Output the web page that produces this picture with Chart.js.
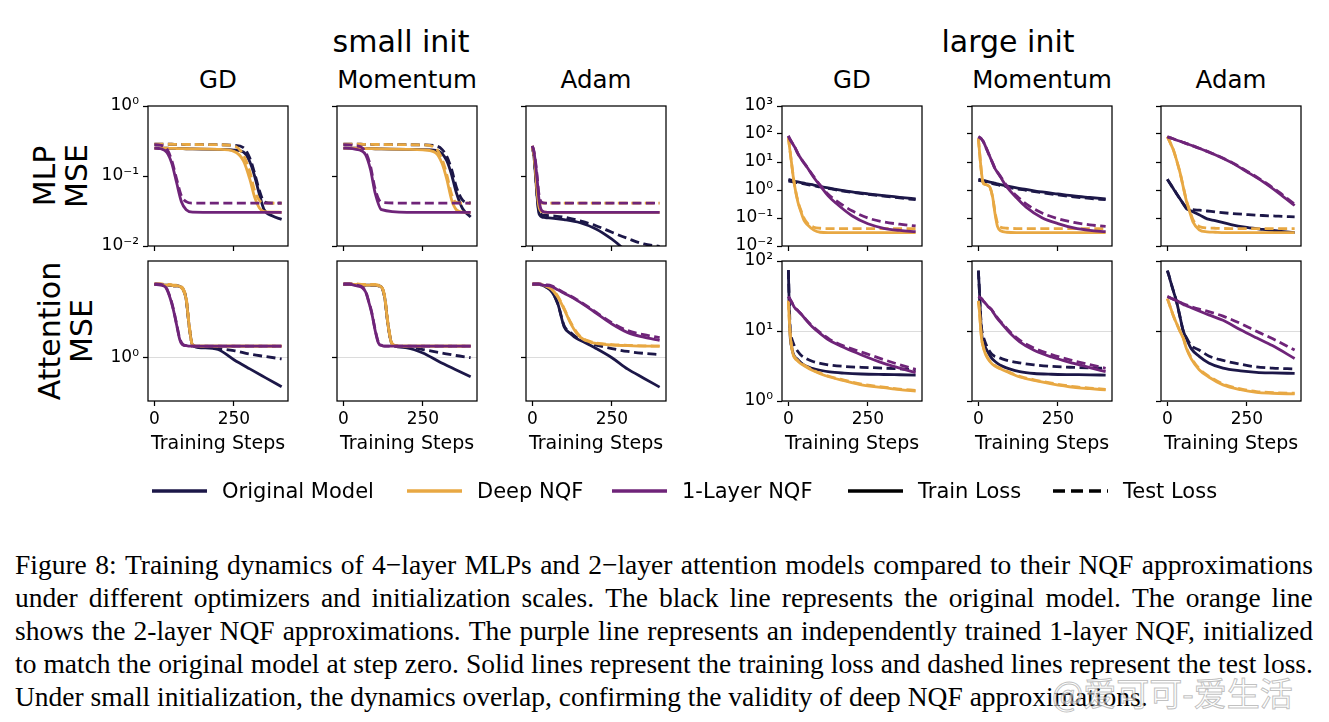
<!DOCTYPE html>
<html>
<head>
<meta charset="utf-8">
<title>Figure 8 - training dynamics</title>
<script src="https://cdn.jsdelivr.net/npm/chart.js@4.4.1/dist/chart.umd.min.js"></script>
<style>
  html, body { margin: 0; padding: 0; background: #fff; }
  #fig { position: relative; width: 1329px; height: 722px; overflow: hidden;
         font-family: 'DejaVu Sans', sans-serif; color: #000; }
  #fig canvas { position: absolute; }
  .lbl { position: absolute; white-space: nowrap; line-height: 1; transform: translate(-50%, -50%); }
  .group-title { font-size: 30px; }
  .col-title { font-size: 24.5px; }
  .row-title { position: absolute; font-size: 30px; line-height: 32px; text-align: center; white-space: nowrap;
               transform: translate(-50%, -50%) rotate(-90deg); }
  .legend-item { position: absolute; top: 491px; transform: translateY(-50%); display: flex;
                 align-items: center; font-size: 21px; white-space: nowrap; }
  .legend-item svg { margin-right: 15px; }
  #caption { position: absolute; left: 15px; top: 548px; width: 1298px;
             font-family: 'Liberation Serif', 'Times New Roman', serif; font-size: 27.5px; }
  #caption .line { display: flex; justify-content: space-between; height: 33px; line-height: 33px; white-space: nowrap; }
  #caption .last { height: 33px; line-height: 33px; white-space: nowrap; }
  .watermark { position: absolute; left: 1052px; top: 668px; font-size: 33px; white-space: nowrap;
               font-family: 'Noto Sans CJK SC', sans-serif; color: rgba(255,255,255,0.55);
               -webkit-text-stroke: 1px rgba(140,140,140,0.55); }
</style>
</head>
<body>
<div id="fig"></div>
<script>
/* ── AXES ── */
const xTicks = [0, 250];
const xRange = [-20, 420];
const mlpSmallTicks = [0.01, 0.1, 1];
const mlpSmallRange = [0.01, 1];
const attnSmallTicks = [1];
const attnSmallRange = [0.702, 2.22];
const mlpLargeTicks = [0.01, 0.1, 1, 10, 100, 1000];
const mlpLargeRange = [0.01, 1000];
const attnLargeTicks = [1, 10, 100];
const attnLargeRange = [1, 100];

/* ── MLP, small init ── */
const mlpSmallGdSteps     = [0, 20, 40, 55, 70, 85, 100, 120, 200, 250, 280, 300, 315, 330, 345, 370, 400];
const mlpSmallGdOrigTrain = [0.25, 0.25, 0.249, 0.248, 0.247, 0.246, 0.245, 0.244, 0.24, 0.235, 0.22, 0.16, 0.10, 0.055, 0.033, 0.027, 0.024];
const mlpSmallGdOrigTest  = [0.285, 0.285, 0.284, 0.284, 0.283, 0.283, 0.282, 0.282, 0.28, 0.275, 0.255, 0.18, 0.11, 0.062, 0.043, 0.041, 0.041];
const mlpSmallGdDeepTrain = [0.25, 0.25, 0.249, 0.248, 0.247, 0.246, 0.245, 0.244, 0.24, 0.225, 0.165, 0.09, 0.05, 0.035, 0.031, 0.0305, 0.0303];
const mlpSmallGdDeepTest  = [0.285, 0.285, 0.284, 0.284, 0.283, 0.283, 0.282, 0.282, 0.28, 0.27, 0.2, 0.115, 0.062, 0.045, 0.041, 0.041, 0.041];
const mlpSmallGdOneTrain  = [0.25, 0.245, 0.215, 0.15, 0.08, 0.043, 0.033, 0.0305, 0.0303, 0.0303, 0.0303, 0.0303, 0.0303, 0.0303, 0.0303, 0.0303, 0.0303];
const mlpSmallGdOneTest   = [0.28, 0.275, 0.24, 0.165, 0.09, 0.052, 0.043, 0.041, 0.041, 0.041, 0.041, 0.041, 0.041, 0.041, 0.041, 0.041, 0.041];

const mlpSmallMomSteps     = [0, 20, 40, 55, 70, 85, 100, 120, 200, 250, 290, 310, 325, 340, 355, 375, 400];
const mlpSmallMomOrigTrain = [0.25, 0.25, 0.249, 0.248, 0.247, 0.246, 0.245, 0.244, 0.24, 0.238, 0.232, 0.21, 0.165, 0.105, 0.058, 0.034, 0.026];
const mlpSmallMomOrigTest  = [0.285, 0.285, 0.284, 0.284, 0.283, 0.283, 0.282, 0.282, 0.28, 0.278, 0.27, 0.24, 0.19, 0.125, 0.07, 0.045, 0.041];
const mlpSmallMomDeepTrain = [0.25, 0.25, 0.249, 0.248, 0.247, 0.246, 0.245, 0.244, 0.24, 0.236, 0.215, 0.152, 0.09, 0.046, 0.033, 0.0305, 0.0303];
const mlpSmallMomDeepTest  = [0.285, 0.285, 0.284, 0.284, 0.283, 0.283, 0.282, 0.282, 0.28, 0.278, 0.25, 0.175, 0.105, 0.055, 0.042, 0.041, 0.041];
const mlpSmallMomOneTrain  = [0.25, 0.248, 0.24, 0.232, 0.2, 0.125, 0.057, 0.033, 0.0303, 0.0303, 0.0303, 0.0303, 0.0303, 0.0303, 0.0303, 0.0303, 0.0303];
const mlpSmallMomOneTest   = [0.28, 0.278, 0.27, 0.26, 0.22, 0.14, 0.065, 0.042, 0.041, 0.041, 0.041, 0.041, 0.041, 0.041, 0.041, 0.041, 0.041];

const mlpSmallAdamSteps     = [0, 5, 10, 15, 20, 25, 30, 40, 60, 100, 150, 200, 250, 300, 350, 400];
const mlpSmallAdamOrigTrain = [0.26, 0.19, 0.1, 0.05, 0.03, 0.027, 0.026, 0.0255, 0.025, 0.0238, 0.0215, 0.0175, 0.0125, 0.0082, 0.0058, 0.0042];
const mlpSmallAdamOrigTest  = [0.26, 0.19, 0.1, 0.05, 0.032, 0.029, 0.028, 0.0275, 0.027, 0.0258, 0.0228, 0.0195, 0.0157, 0.0128, 0.0107, 0.0099];
const mlpSmallAdamDeepTrain = [0.26, 0.2, 0.12, 0.06, 0.038, 0.032, 0.031, 0.0305, 0.0303, 0.0303, 0.0303, 0.0303, 0.0303, 0.0303, 0.0303, 0.0303];
const mlpSmallAdamDeepTest  = [0.27, 0.21, 0.13, 0.07, 0.048, 0.042, 0.041, 0.041, 0.041, 0.041, 0.041, 0.041, 0.041, 0.041, 0.041, 0.041];
const mlpSmallAdamOneTrain  = [0.27, 0.22, 0.15, 0.09, 0.05, 0.036, 0.032, 0.0305, 0.0303, 0.0303, 0.0303, 0.0303, 0.0303, 0.0303, 0.0303, 0.0303];
const mlpSmallAdamOneTest   = [0.27, 0.225, 0.16, 0.1, 0.058, 0.045, 0.042, 0.041, 0.041, 0.041, 0.041, 0.041, 0.041, 0.041, 0.041, 0.041];

/* ── MLP, large init ── */
const mlpLargeGdSteps     = [0, 5, 10, 15, 20, 30, 40, 50, 60, 80, 100, 125, 150, 200, 250, 300, 350, 400];
const mlpLargeGdOrigTrain = [2.4, 2.3, 2.2, 2.1, 2.05, 1.95, 1.85, 1.75, 1.65, 1.5, 1.33, 1.19, 1.05, 0.86, 0.73, 0.63, 0.55, 0.48];
const mlpLargeGdOrigTest  = [2.1, 2.05, 2.0, 1.95, 1.9, 1.82, 1.74, 1.65, 1.57, 1.43, 1.28, 1.14, 1.01, 0.83, 0.7, 0.6, 0.52, 0.45];
const mlpLargeGdDeepTrain = [75, 26, 9.2, 3.2, 1.34, 0.37, 0.16, 0.079, 0.057, 0.037, 0.031, 0.03, 0.03, 0.03, 0.03, 0.03, 0.03, 0.03];
const mlpLargeGdDeepTest  = [75, 26, 9.2, 3.3, 1.4, 0.4, 0.18, 0.095, 0.065, 0.047, 0.043, 0.042, 0.042, 0.042, 0.042, 0.042, 0.042, 0.042];
const mlpLargeGdOneTrain  = [85, 65, 52, 42, 34, 20, 13, 9, 6.2, 2.8, 1.43, 0.62, 0.335, 0.12, 0.062, 0.043, 0.036, 0.0325];
const mlpLargeGdOneTest   = [85, 65, 52, 42, 34, 20, 13, 9, 6.3, 3.0, 1.5, 0.7, 0.42, 0.18, 0.1, 0.072, 0.06, 0.052];

const mlpLargeMomSteps     = [0, 5, 10, 15, 20, 30, 37, 45, 52, 60, 70, 90, 120, 150, 200, 250, 300, 350, 400];
const mlpLargeMomOrigTrain = [2.4, 2.35, 2.28, 2.22, 2.15, 2.0, 1.92, 1.82, 1.75, 1.65, 1.55, 1.38, 1.18, 1.05, 0.85, 0.72, 0.61, 0.54, 0.48];
const mlpLargeMomOrigTest  = [2.2, 2.15, 2.1, 2.05, 2.0, 1.87, 1.79, 1.7, 1.63, 1.54, 1.45, 1.29, 1.1, 0.98, 0.8, 0.67, 0.57, 0.5, 0.45];
const mlpLargeMomDeepTrain = [70, 15.5, 4, 1.8, 1.6, 1.45, 1.2, 0.55, 0.15, 0.05, 0.035, 0.031, 0.03, 0.03, 0.03, 0.03, 0.03, 0.03, 0.03];
const mlpLargeMomDeepTest  = [70, 15.5, 4, 1.8, 1.6, 1.45, 1.2, 0.55, 0.17, 0.065, 0.047, 0.043, 0.042, 0.042, 0.042, 0.042, 0.042, 0.042, 0.042];
const mlpLargeMomOneTrain  = [80, 74, 66, 55, 42, 22.6, 14.7, 9.1, 5.9, 4.25, 2.83, 1.26, 0.53, 0.245, 0.102, 0.063, 0.044, 0.036, 0.0325];
const mlpLargeMomOneTest   = [80, 74, 66, 55, 42, 22.6, 14.7, 9.1, 6.0, 4.4, 3.0, 1.4, 0.62, 0.32, 0.15, 0.095, 0.07, 0.057, 0.05];

const mlpLargeAdamSteps     = [0, 10, 20, 30, 40, 50, 60, 70, 80, 100, 125, 150, 200, 250, 300, 350, 400];
const mlpLargeAdamOrigTrain = [2.4, 1.6, 1.07, 0.71, 0.48, 0.32, 0.215, 0.19, 0.168, 0.13, 0.093, 0.081, 0.058, 0.046, 0.039, 0.034, 0.03];
const mlpLargeAdamOrigTest  = [2.4, 1.6, 1.07, 0.71, 0.48, 0.32, 0.24, 0.22, 0.2, 0.19, 0.178, 0.165, 0.145, 0.133, 0.123, 0.116, 0.11];
const mlpLargeAdamDeepTrain = [80, 46, 25, 10.5, 4.1, 1.27, 0.4, 0.17, 0.074, 0.038, 0.032, 0.031, 0.03, 0.03, 0.03, 0.03, 0.03];
const mlpLargeAdamDeepTest  = [80, 46, 25, 10.5, 4.1, 1.3, 0.42, 0.19, 0.09, 0.05, 0.044, 0.043, 0.042, 0.042, 0.042, 0.042, 0.042];
const mlpLargeAdamOneTrain  = [80, 73, 66, 60, 55, 50, 45.5, 41.4, 37.6, 31, 24, 18.2, 9.7, 4.5, 2.0, 0.78, 0.28];
const mlpLargeAdamOneTest   = [80, 73, 66, 60, 55, 50, 45.5, 41.4, 37.6, 31, 24, 18.4, 10, 4.7, 2.1, 0.85, 0.31];

/* ── Attention, small init ── */
const attnSmallGdSteps     = [0, 20, 35, 50, 60, 70, 80, 90, 100, 110, 120, 150, 200, 250, 300, 350, 400];
const attnSmallGdOrigTrain = [1.83, 1.83, 1.82, 1.82, 1.81, 1.81, 1.80, 1.76, 1.62, 1.28, 1.11, 1.085, 1.07, 0.984, 0.912, 0.847, 0.787];
const attnSmallGdOrigTest  = [1.83, 1.83, 1.82, 1.82, 1.81, 1.81, 1.80, 1.76, 1.62, 1.28, 1.11, 1.09, 1.078, 1.06, 1.03, 1.01, 0.99];
const attnSmallGdDeepTrain = [1.83, 1.83, 1.82, 1.82, 1.81, 1.81, 1.80, 1.75, 1.62, 1.28, 1.105, 1.10, 1.10, 1.10, 1.10, 1.10, 1.10];
const attnSmallGdDeepTest  = [1.84, 1.84, 1.83, 1.83, 1.82, 1.82, 1.81, 1.77, 1.64, 1.30, 1.11, 1.10, 1.10, 1.10, 1.10, 1.10, 1.10];
const attnSmallGdOneTrain  = [1.83, 1.82, 1.79, 1.63, 1.48, 1.31, 1.16, 1.11, 1.105, 1.10, 1.10, 1.10, 1.10, 1.10, 1.10, 1.10, 1.10];
const attnSmallGdOneTest   = [1.84, 1.83, 1.80, 1.64, 1.49, 1.32, 1.17, 1.115, 1.105, 1.10, 1.10, 1.10, 1.10, 1.10, 1.10, 1.10, 1.10];

const attnSmallMomSteps     = [0, 20, 40, 60, 70, 80, 90, 100, 110, 120, 130, 140, 150, 160, 200, 250, 300, 350, 400];
const attnSmallMomOrigTrain = [1.83, 1.83, 1.83, 1.82, 1.82, 1.82, 1.82, 1.82, 1.81, 1.79, 1.64, 1.32, 1.14, 1.105, 1.085, 1.04, 0.97, 0.91, 0.855];
const attnSmallMomOrigTest  = [1.83, 1.83, 1.83, 1.82, 1.82, 1.82, 1.82, 1.82, 1.81, 1.79, 1.64, 1.32, 1.14, 1.105, 1.095, 1.07, 1.045, 1.02, 1.0];
const attnSmallMomDeepTrain = [1.83, 1.83, 1.83, 1.82, 1.82, 1.82, 1.82, 1.82, 1.81, 1.79, 1.64, 1.32, 1.14, 1.105, 1.10, 1.10, 1.10, 1.10, 1.10];
const attnSmallMomDeepTest  = [1.84, 1.84, 1.84, 1.83, 1.83, 1.83, 1.83, 1.83, 1.82, 1.80, 1.66, 1.34, 1.15, 1.11, 1.10, 1.10, 1.10, 1.10, 1.10];
const attnSmallMomOneTrain  = [1.83, 1.83, 1.81, 1.78, 1.72, 1.58, 1.43, 1.25, 1.13, 1.105, 1.10, 1.10, 1.10, 1.10, 1.10, 1.10, 1.10, 1.10, 1.10];
const attnSmallMomOneTest   = [1.84, 1.84, 1.82, 1.79, 1.73, 1.59, 1.44, 1.26, 1.14, 1.11, 1.10, 1.10, 1.10, 1.10, 1.10, 1.10, 1.10, 1.10, 1.10];

const attnSmallAdamSteps     = [0, 20, 40, 60, 80, 100, 120, 140, 160, 180, 200, 250, 300, 350, 400];
const attnSmallAdamOrigTrain = [1.83, 1.83, 1.80, 1.73, 1.56, 1.29, 1.22, 1.17, 1.14, 1.11, 1.08, 1.0, 0.91, 0.845, 0.785];
const attnSmallAdamOrigTest  = [1.83, 1.83, 1.80, 1.73, 1.56, 1.30, 1.23, 1.18, 1.15, 1.125, 1.11, 1.078, 1.053, 1.037, 1.026];
const attnSmallAdamDeepTrain = [1.83, 1.83, 1.81, 1.76, 1.65, 1.49, 1.33, 1.22, 1.165, 1.14, 1.125, 1.11, 1.105, 1.10, 1.10];
const attnSmallAdamDeepTest  = [1.84, 1.84, 1.82, 1.77, 1.66, 1.50, 1.34, 1.23, 1.17, 1.145, 1.13, 1.115, 1.108, 1.103, 1.10];
const attnSmallAdamOneTrain  = [1.83, 1.83, 1.815, 1.80, 1.75, 1.70, 1.655, 1.605, 1.553, 1.50, 1.445, 1.32, 1.23, 1.185, 1.155];
const attnSmallAdamOneTest   = [1.84, 1.84, 1.825, 1.81, 1.76, 1.71, 1.665, 1.615, 1.563, 1.51, 1.455, 1.335, 1.25, 1.21, 1.18];

/* ── Attention, large init ── */
const attnLargeGdSteps     = [0, 3, 6, 10, 15, 20, 30, 40, 55, 75, 100, 130, 175, 230, 300, 350, 400];
const attnLargeGdOrigTrain = [74, 20, 8, 6, 4.8, 4.3, 3.9, 3.5, 3.15, 2.93, 2.75, 2.6, 2.5, 2.43, 2.39, 2.37, 2.35];
const attnLargeGdOrigTest  = [74, 25, 10, 8, 6.8, 6.0, 5.1, 4.5, 4.05, 3.7, 3.45, 3.27, 3.12, 3.03, 2.95, 2.87, 2.78];
const attnLargeGdDeepTrain = [27, 14, 8.5, 6, 4.6, 4.1, 3.7, 3.4, 3.08, 2.75, 2.45, 2.2, 1.95, 1.7, 1.55, 1.45, 1.39];
const attnLargeGdDeepTest  = [27, 14.3, 8.7, 6.1, 4.7, 4.2, 3.78, 3.47, 3.14, 2.8, 2.5, 2.24, 1.99, 1.74, 1.58, 1.48, 1.42];
const attnLargeGdOneTrain  = [31, 29.5, 28, 26, 23.5, 21.5, 19.5, 17.5, 14.5, 11.5, 9.2, 7.3, 5.8, 4.55, 3.45, 2.95, 2.54];
const attnLargeGdOneTest   = [31, 29.5, 28, 26, 23.5, 21.5, 19.5, 17.5, 14.6, 11.8, 9.5, 7.6, 6.1, 5.0, 3.9, 3.3, 2.83];

const attnLargeMomSteps     = [0, 3, 6, 10, 15, 20, 25, 30, 40, 50, 60, 75, 100, 130, 175, 230, 300, 350, 400];
const attnLargeMomOrigTrain = [73, 40, 20, 9.5, 7, 6.2, 5.5, 5.0, 4.2, 3.75, 3.45, 3.15, 2.85, 2.62, 2.47, 2.41, 2.38, 2.36, 2.35];
const attnLargeMomOrigTest  = [73, 40, 20, 11, 8.5, 7.2, 6.3, 5.6, 4.8, 4.4, 4.25, 4.0, 3.7, 3.5, 3.28, 3.12, 3.02, 2.97, 2.93];
const attnLargeMomDeepTrain = [27, 20, 13, 7.8, 6, 5, 4.4, 4.0, 3.5, 3.2, 3.0, 2.8, 2.5, 2.2, 1.97, 1.76, 1.57, 1.5, 1.44];
const attnLargeMomDeepTest  = [27, 20.4, 13.3, 8, 6.1, 5.1, 4.5, 4.08, 3.57, 3.26, 3.06, 2.86, 2.55, 2.25, 2.01, 1.8, 1.6, 1.53, 1.47];
const attnLargeMomOneTrain  = [31, 30.5, 30, 29, 27, 25.5, 24, 22.5, 20.5, 17.5, 15, 12.5, 9.3, 7.0, 5.3, 4.25, 3.45, 3.0, 2.62];
const attnLargeMomOneTest   = [31, 30.5, 30, 29, 27, 25.5, 24, 22.5, 20.5, 17.8, 15.4, 12.9, 9.7, 7.4, 5.7, 4.6, 3.75, 3.3, 2.93];

const attnLargeAdamSteps     = [0, 5, 10, 20, 30, 40, 50, 60, 75, 100, 130, 175, 230, 280, 330, 400];
const attnLargeAdamOrigTrain = [73, 62, 51, 36, 25, 15.7, 10, 7.8, 5.6, 4.35, 3.5, 2.95, 2.7, 2.57, 2.52, 2.48];
const attnLargeAdamOrigTest  = [73, 62, 51, 36, 25, 15.7, 10, 8.0, 6.2, 5.35, 4.4, 3.8, 3.35, 3.07, 2.95, 2.87];
const attnLargeAdamDeepTrain = [29, 25, 21.5, 16, 12.5, 9.8, 7.85, 5.6, 4.0, 2.8, 2.2, 1.7, 1.45, 1.33, 1.29, 1.26];
const attnLargeAdamDeepTest  = [29, 25, 21.5, 16, 12.5, 9.9, 8.0, 5.75, 4.15, 2.9, 2.27, 1.75, 1.49, 1.36, 1.32, 1.29];
const attnLargeAdamOneTrain  = [31, 30.3, 29.6, 28.3, 27, 25.5, 24, 23, 21.5, 19.3, 17, 14.2, 10.4, 8.0, 6.2, 4.05];
const attnLargeAdamOneTest   = [31, 30.3, 29.6, 28.3, 27, 25.7, 24.5, 23.6, 22.3, 20.5, 18.9, 16.3, 12.8, 9.9, 7.8, 5.35];

/* ── TEXT ── */
const groupTitles = ['small init', 'large init'];
const colTitles = ['GD', 'Momentum', 'Adam', 'GD', 'Momentum', 'Adam'];
const rowTitles = [['MLP', 'MSE'], ['Attention', 'MSE']];
const legendLabels = ['Original Model', 'Deep NQF', '1-Layer NQF', 'Train Loss', 'Test Loss'];
const captionLines = [
  'Figure 8: Training dynamics of 4\u2212layer MLPs and 2\u2212layer attention models compared to their NQF approximations',
  'under different optimizers and initialization scales.  The black line represents the original model.  The orange line',
  'shows the 2-layer NQF approximations. The purple line represents an independently trained 1-layer NQF, initialized',
  'to match the original model at step zero. Solid lines represent the training loss and dashed lines represent the test loss.',
  'Under small initialization, the dynamics overlap, confirming the validity of deep NQF approximations.'
];

/* ── LAYOUT / STYLE ── */
const FONT = "'DejaVu Sans', sans-serif";
const COL = { orig: '#1c1748', deep: '#e8a843', one: '#6f2479' };
const COL_LEFT = [148, 337, 526, 782, 972, 1161];
const ROW_TOP = [106, 261];
const PLOT = 140, AXIS_W = 70, PAD_T = 20, PAD_R = 6;
const LINE_W = 2.8, DASH = [9, 4.5];

const AXES = {
  mlpSmall:  { ticks: mlpSmallTicks,  range: mlpSmallRange,  grid: false },
  attnSmall: { ticks: attnSmallTicks, range: attnSmallRange, grid: true },
  mlpLarge:  { ticks: mlpLargeTicks,  range: mlpLargeRange,  grid: false },
  attnLarge: { ticks: attnLargeTicks, range: attnLargeRange, grid: true }
};

const PANELS = [
  { axis: 'mlpSmall', col: 0, row: 0, steps: mlpSmallGdSteps,
    one: [mlpSmallGdOneTrain, mlpSmallGdOneTest], deep: [mlpSmallGdDeepTrain, mlpSmallGdDeepTest], orig: [mlpSmallGdOrigTrain, mlpSmallGdOrigTest] },
  { axis: 'mlpSmall', col: 1, row: 0, steps: mlpSmallMomSteps,
    one: [mlpSmallMomOneTrain, mlpSmallMomOneTest], deep: [mlpSmallMomDeepTrain, mlpSmallMomDeepTest], orig: [mlpSmallMomOrigTrain, mlpSmallMomOrigTest] },
  { axis: 'mlpSmall', col: 2, row: 0, steps: mlpSmallAdamSteps,
    one: [mlpSmallAdamOneTrain, mlpSmallAdamOneTest], deep: [mlpSmallAdamDeepTrain, mlpSmallAdamDeepTest], orig: [mlpSmallAdamOrigTrain, mlpSmallAdamOrigTest] },
  { axis: 'mlpLarge', col: 3, row: 0, steps: mlpLargeGdSteps,
    one: [mlpLargeGdOneTrain, mlpLargeGdOneTest], deep: [mlpLargeGdDeepTrain, mlpLargeGdDeepTest], orig: [mlpLargeGdOrigTrain, mlpLargeGdOrigTest] },
  { axis: 'mlpLarge', col: 4, row: 0, steps: mlpLargeMomSteps,
    one: [mlpLargeMomOneTrain, mlpLargeMomOneTest], deep: [mlpLargeMomDeepTrain, mlpLargeMomDeepTest], orig: [mlpLargeMomOrigTrain, mlpLargeMomOrigTest] },
  { axis: 'mlpLarge', col: 5, row: 0, steps: mlpLargeAdamSteps,
    one: [mlpLargeAdamOneTrain, mlpLargeAdamOneTest], deep: [mlpLargeAdamDeepTrain, mlpLargeAdamDeepTest], orig: [mlpLargeAdamOrigTrain, mlpLargeAdamOrigTest] },
  { axis: 'attnSmall', col: 0, row: 1, steps: attnSmallGdSteps,
    one: [attnSmallGdOneTrain, attnSmallGdOneTest], deep: [attnSmallGdDeepTrain, attnSmallGdDeepTest], orig: [attnSmallGdOrigTrain, attnSmallGdOrigTest] },
  { axis: 'attnSmall', col: 1, row: 1, steps: attnSmallMomSteps,
    one: [attnSmallMomOneTrain, attnSmallMomOneTest], deep: [attnSmallMomDeepTrain, attnSmallMomDeepTest], orig: [attnSmallMomOrigTrain, attnSmallMomOrigTest] },
  { axis: 'attnSmall', col: 2, row: 1, steps: attnSmallAdamSteps,
    one: [attnSmallAdamOneTrain, attnSmallAdamOneTest], deep: [attnSmallAdamDeepTrain, attnSmallAdamDeepTest], orig: [attnSmallAdamOrigTrain, attnSmallAdamOrigTest] },
  { axis: 'attnLarge', col: 3, row: 1, steps: attnLargeGdSteps,
    one: [attnLargeGdOneTrain, attnLargeGdOneTest], deep: [attnLargeGdDeepTrain, attnLargeGdDeepTest], orig: [attnLargeGdOrigTrain, attnLargeGdOrigTest] },
  { axis: 'attnLarge', col: 4, row: 1, steps: attnLargeMomSteps,
    one: [attnLargeMomOneTrain, attnLargeMomOneTest], deep: [attnLargeMomDeepTrain, attnLargeMomDeepTest], orig: [attnLargeMomOrigTrain, attnLargeMomOrigTest] },
  { axis: 'attnLarge', col: 5, row: 1, steps: attnLargeAdamSteps,
    one: [attnLargeAdamOneTrain, attnLargeAdamOneTest], deep: [attnLargeAdamDeepTrain, attnLargeAdamDeepTest], orig: [attnLargeAdamOrigTrain, attnLargeAdamOrigTest] }
];

const fig = document.getElementById('fig');

function addLabel(cls, text, x, y) {
  const d = document.createElement('div');
  d.className = 'lbl ' + cls;
  d.textContent = text;
  d.style.left = x + 'px';
  d.style.top = y + 'px';
  fig.appendChild(d);
}

const SUP = { '-': '\u207b', '0': '\u2070', '1': '\u00b9', '2': '\u00b2', '3': '\u00b3' };
function powLabel(v) {
  const e = String(Math.round(Math.log10(v)));
  return '10' + e.split('').map(c => SUP[c]).join('');
}

// box round the plot area (spines)
const framePlugin = {
  id: 'frame',
  afterDatasetsDraw(chart) {
    const { ctx, chartArea: a } = chart;
    ctx.save();
    ctx.strokeStyle = '#000';
    ctx.lineWidth = 1.25;
    ctx.strokeRect(a.left, a.top, a.right - a.left, a.bottom - a.top);
    ctx.restore();
  }
};

function series(steps, vals, color, dashed) {
  return {
    data: steps.map((s, i) => ({ x: s, y: vals[i] })),
    borderColor: color,
    borderWidth: LINE_W,
    borderDash: dashed ? DASH : [],
    pointRadius: 0,
    fill: false,
    cubicInterpolationMode: 'monotone'
  };
}

function makePanel(p) {
  const ax = AXES[p.axis];
  const bottom = p.row === 1;
  const labelled = p.col === 0 || p.col === 3;
  const xH = bottom ? 58 : 20;
  const W = AXIS_W + PLOT + PAD_R, H = PAD_T + PLOT + xH;

  const cv = document.createElement('canvas');
  cv.width = W; cv.height = H;
  cv.style.width = W + 'px'; cv.style.height = H + 'px';
  cv.style.left = (COL_LEFT[p.col] - AXIS_W) + 'px';
  cv.style.top = (ROW_TOP[p.row] - PAD_T) + 'px';
  fig.appendChild(cv);

  // first dataset is drawn on top: 1-layer, then deep, then original
  const datasets = [
    series(p.steps, p.one[0], COL.one, false),
    series(p.steps, p.one[1], COL.one, true),
    series(p.steps, p.deep[0], COL.deep, false),
    series(p.steps, p.deep[1], COL.deep, true),
    series(p.steps, p.orig[0], COL.orig, false),
    series(p.steps, p.orig[1], COL.orig, true)
  ];

  new Chart(cv, {
    type: 'line',
    data: { datasets },
    plugins: [framePlugin],
    options: {
      responsive: false,
      animation: false,
      events: [],
      layout: { padding: { top: PAD_T, right: PAD_R, left: 0, bottom: 0 } },
      plugins: { legend: { display: false }, tooltip: { enabled: false } },
      scales: {
        x: {
          type: 'linear', min: xRange[0], max: xRange[1],
          afterBuildTicks: s => { s.ticks = xTicks.map(v => ({ value: v })); },
          afterFit: s => { s.height = xH; },
          border: { display: false },
          grid: { drawOnChartArea: false, drawTicks: true, tickLength: 5, tickColor: '#000', tickWidth: 1.25 },
          ticks: { color: '#000', font: { family: FONT, size: 17 }, padding: 3, maxRotation: 0, autoSkip: false,
                   callback: v => bottom ? String(v) : '' },
          title: { display: bottom, text: 'Training Steps', color: '#000',
                   font: { family: FONT, size: 19 }, padding: { top: 0, bottom: 4 } }
        },
        y: {
          type: 'logarithmic', min: ax.range[0], max: ax.range[1],
          afterBuildTicks: s => { s.ticks = ax.ticks.map(v => ({ value: v })); },
          afterFit: s => { s.width = AXIS_W; },
          border: { display: false },
          grid: { drawOnChartArea: ax.grid, color: '#dcdcdc', lineWidth: 1,
                  drawTicks: true, tickLength: 5, tickColor: '#000', tickWidth: 1.25 },
          ticks: { color: '#000', font: { family: FONT, size: 17 }, padding: 4, autoSkip: false,
                   callback: v => labelled ? powLabel(v) : '' }
        }
      }
    }
  });
}

/* ── TITLES ── */
addLabel('group-title', groupTitles[0], 401, 42);
addLabel('group-title', groupTitles[1], 1008, 42);
colTitles.forEach((t, i) => addLabel('col-title', t, COL_LEFT[i] + PLOT / 2, 80));
[[61, 176], [66, 331]].forEach(([x, y], i) => {
  const d = document.createElement('div');
  d.className = 'row-title';
  d.innerHTML = rowTitles[i].join('<br>');
  d.style.left = x + 'px';
  d.style.top = y + 'px';
  fig.appendChild(d);
});

PANELS.forEach(makePanel);

/* ── LEGEND ── */
const legendX = [152, 407, 612, 848, 1053];
const legendColor = [COL.orig, COL.deep, COL.one, '#000', '#000'];
legendLabels.forEach((t, i) => {
  const d = document.createElement('div');
  d.className = 'legend-item';
  d.style.left = legendX[i] + 'px';
  const dash = i === 4 ? ' stroke-dasharray="12 6"' : '';
  d.innerHTML = `<svg width="55" height="10"><line x1="0" y1="5" x2="55" y2="5" stroke="${legendColor[i]}" stroke-width="3.3"${dash}/></svg><span>${t}</span>`;
  fig.appendChild(d);
});

/* ── CAPTION ── */
const cap = document.createElement('div');
cap.id = 'caption';
captionLines.forEach((line, i) => {
  const row = document.createElement('div');
  if (i === captionLines.length - 1) {
    row.className = 'last';
    row.textContent = line;
  } else {
    row.className = 'line';
    line.split(/\s+/).forEach(w => {
      const s = document.createElement('span');
      s.textContent = w;
      row.appendChild(s);
    });
  }
  cap.appendChild(row);
});
fig.appendChild(cap);

const wm = document.createElement('div');
wm.className = 'watermark';
wm.textContent = '@爱可可-爱生活';
fig.appendChild(wm);
</script>
</body>
</html>
